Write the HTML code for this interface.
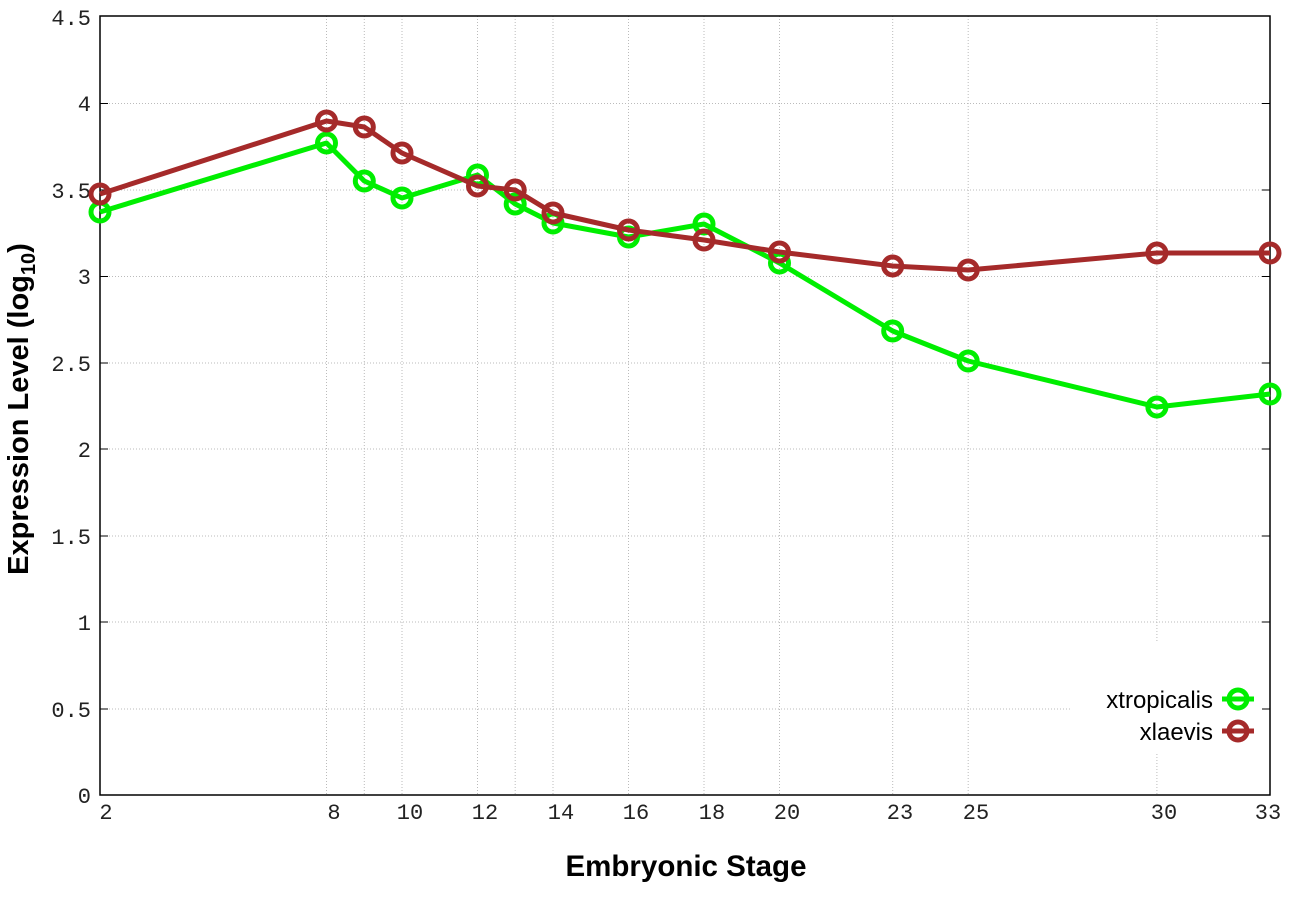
<!DOCTYPE html>
<html><head><meta charset="utf-8"><style>body{margin:0;background:#fff}</style></head><body>
<svg width="1296" height="907" xmlns="http://www.w3.org/2000/svg">
<rect width="1296" height="907" fill="#fff"/>
<g stroke="#bbb" stroke-width="1" stroke-dasharray="1,2">
<line x1="100" x2="1270" y1="103.5" y2="103.5"/><line x1="100" x2="1270" y1="190" y2="190"/>
<line x1="100" x2="1270" y1="276.5" y2="276.5"/><line x1="100" x2="1270" y1="363" y2="363"/>
<line x1="100" x2="1270" y1="449" y2="449"/><line x1="100" x2="1270" y1="536" y2="536"/>
<line x1="100" x2="1270" y1="622" y2="622"/><line x1="100" x2="1270" y1="709" y2="709"/>
<line x1="326.5" x2="326.5" y1="16" y2="795"/><line x1="364.3" x2="364.3" y1="16" y2="795"/>
<line x1="402" x2="402" y1="16" y2="795"/><line x1="477.5" x2="477.5" y1="16" y2="795"/>
<line x1="515.2" x2="515.2" y1="16" y2="795"/><line x1="553" x2="553" y1="16" y2="795"/>
<line x1="628.5" x2="628.5" y1="16" y2="795"/><line x1="704" x2="704" y1="16" y2="795"/>
<line x1="779.5" x2="779.5" y1="16" y2="795"/><line x1="892.7" x2="892.7" y1="16" y2="795"/>
<line x1="968.2" x2="968.2" y1="16" y2="795"/><line x1="1156.9" x2="1156.9" y1="16" y2="795"/>
</g>
<rect x="1072" y="642" width="197" height="110" fill="#fff"/>
<rect x="100" y="16" width="1170" height="779" fill="none" stroke="#000" stroke-width="1.5"/>
<g stroke="#000" stroke-width="1">
<line x1="100" x2="108" y1="103.5" y2="103.5"/><line x1="100" x2="108" y1="190" y2="190"/><line x1="100" x2="108" y1="276.5" y2="276.5"/><line x1="100" x2="108" y1="363" y2="363"/><line x1="100" x2="108" y1="449" y2="449"/><line x1="100" x2="108" y1="536" y2="536"/><line x1="100" x2="108" y1="622" y2="622"/><line x1="100" x2="108" y1="709" y2="709"/>
<line x1="1262" x2="1270" y1="103.5" y2="103.5"/><line x1="1262" x2="1270" y1="190" y2="190"/><line x1="1262" x2="1270" y1="276.5" y2="276.5"/><line x1="1262" x2="1270" y1="363" y2="363"/><line x1="1262" x2="1270" y1="449" y2="449"/><line x1="1262" x2="1270" y1="536" y2="536"/><line x1="1262" x2="1270" y1="622" y2="622"/><line x1="1262" x2="1270" y1="709" y2="709"/>
</g>
<g font-family="Liberation Mono, monospace" font-size="22" fill="#222" text-anchor="end">
<text x="91" y="25">4.5</text><text x="91" y="111">4</text><text x="91" y="198">3.5</text><text x="91" y="284">3</text><text x="91" y="371">2.5</text><text x="91" y="457">2</text><text x="91" y="544">1.5</text><text x="91" y="630">1</text><text x="91" y="717">0.5</text><text x="91" y="803">0</text>
</g>
<g font-family="Liberation Mono, monospace" font-size="22" fill="#222" text-anchor="middle">
<text x="106" y="819">2</text><text x="334" y="819">8</text><text x="410" y="819">10</text><text x="485" y="819">12</text><text x="561" y="819">14</text><text x="636" y="819">16</text><text x="712" y="819">18</text><text x="787" y="819">20</text><text x="900" y="819">23</text><text x="976" y="819">25</text><text x="1164" y="819">30</text><text x="1268" y="819">33</text>
</g>
<text x="686" y="876" font-family="Liberation Sans, sans-serif" font-weight="bold" font-size="29.5" text-anchor="middle">Embryonic Stage</text>
<text transform="translate(28,409) rotate(-90)" font-family="Liberation Sans, sans-serif" font-weight="bold" font-size="29" text-anchor="middle">Expression Level (log<tspan font-size="20" dy="7">10</tspan><tspan dy="-7">)</tspan></text>
<g fill="none" stroke-width="5" stroke-linejoin="round">
<polyline stroke="#00ee00" points="100,212 326.5,143 364.3,181 402,198 477.5,175 515.2,204 553,223 628.5,237 704,224 779.5,263 892.7,331 968.2,361 1156.9,407 1270,394"/>
<g stroke="#00ee00"><circle cx="100" cy="212" r="9"/><circle cx="326.5" cy="143" r="9"/><circle cx="364.3" cy="181" r="9"/><circle cx="402" cy="198" r="9"/><circle cx="477.5" cy="175" r="9"/><circle cx="515.2" cy="204" r="9"/><circle cx="553" cy="223" r="9"/><circle cx="628.5" cy="237" r="9"/><circle cx="704" cy="224" r="9"/><circle cx="779.5" cy="263" r="9"/><circle cx="892.7" cy="331" r="9"/><circle cx="968.2" cy="361" r="9"/><circle cx="1156.9" cy="407" r="9"/><circle cx="1270" cy="394" r="9"/></g>
<polyline stroke="#a52a2a" points="100,194 326.5,121 364.3,127 402,153 477.5,186 515.2,190 553,213 628.5,230 704,240 779.5,252 892.7,266 968.2,270 1156.9,253 1270,253"/>
<g stroke="#a52a2a"><circle cx="100" cy="194" r="9"/><circle cx="326.5" cy="121" r="9"/><circle cx="364.3" cy="127" r="9"/><circle cx="402" cy="153" r="9"/><circle cx="477.5" cy="186" r="9"/><circle cx="515.2" cy="190" r="9"/><circle cx="553" cy="213" r="9"/><circle cx="628.5" cy="230" r="9"/><circle cx="704" cy="240" r="9"/><circle cx="779.5" cy="252" r="9"/><circle cx="892.7" cy="266" r="9"/><circle cx="968.2" cy="270" r="9"/><circle cx="1156.9" cy="253" r="9"/><circle cx="1270" cy="253" r="9"/></g>
<line x1="1222" x2="1254" y1="699" y2="699" stroke="#00ee00"/><circle cx="1238" cy="699" r="9" stroke="#00ee00"/>
<line x1="1222" x2="1254" y1="731" y2="731" stroke="#a52a2a"/><circle cx="1238" cy="731" r="9" stroke="#a52a2a"/>
</g>
<g font-family="Liberation Sans, sans-serif" font-size="24" text-anchor="end">
<text x="1213" y="708">xtropicalis</text><text x="1213" y="740">xlaevis</text>
</g>
</svg>
</body></html>
